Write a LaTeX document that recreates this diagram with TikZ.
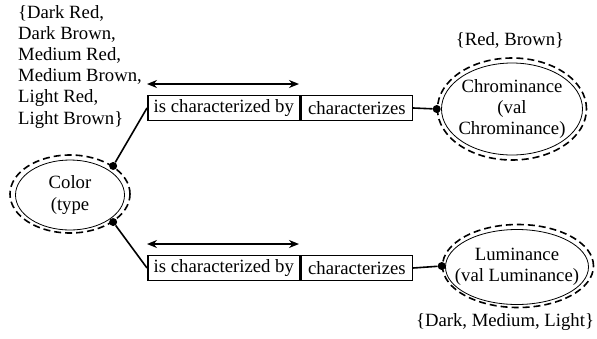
\documentclass[tikz,border=0pt]{standalone}
\usepackage{fontspec}
\setmainfont{Liberation Serif}
\usepackage{tikz}
\usetikzlibrary{positioning,shapes.geometric,arrows.meta}

\begin{document}
\begin{tikzpicture}[x=1pt,y=-1pt,font=\fontsize{18.7}{21.2}\selectfont,
    label text/.style={inner sep=0pt,align=center},
    rim/.style={ellipse,draw,line width=0.8pt,inner sep=0pt},
    halo/.style={ellipse,draw,line width=1.6pt,dash pattern=on 7pt off 4pt,inner sep=0pt},
    role/.style={rectangle,draw,line width=1.6pt,minimum height=25pt,inner sep=0pt,anchor=west},
    link/.style={line width=1.6pt},
    dot/.style={circle,fill,inner sep=0pt,minimum size=8pt},
    dir/.style={line width=1.6pt,{Stealth[length=10pt,width=8pt]}-{Stealth[length=10pt,width=8pt]}}]
      \useasboundingbox (0,0) rectangle (597,338);
      % concepts
      \node[label text](color) at (70,195){Color\\(type};
      \node[rim,minimum width=109pt,minimum height=70pt](colorin) at (70,195){};
      \node[halo,minimum width=120pt,minimum height=78pt](colorout) at (70,194){};
      \node[label text](chrom) at (512,109){Chrominance\\(val\\Chrominance)};
      \node[rim,minimum width=141pt,minimum height=92pt](chromin) at (512,109){};
      \node[halo,minimum width=149pt,minimum height=102pt](chromout) at (512,109){};
      \node[label text](lum) at (517,267){Luminance\\(val Luminance)};
      \node[rim,minimum width=143pt,minimum height=75pt](lumin) at (517,267){};
      \node[halo,minimum width=151pt,minimum height=83pt](lumout) at (518,266){};
      % value sets
      \node[align=left,anchor=north west,inner sep=0pt](colorset) at (18,5){\{Dark Red,\\Dark Brown,\\Medium Red,\\Medium Brown,\\Light Red,\\Light Brown\}};
      \node[inner sep=0pt](chromset) at (510,40){\{Red, Brown\}};
      \node[inner sep=0pt](lumset) at (505,322){\{Dark, Medium, Light\}};
      % upper relation
      \node[role,minimum width=152pt](isby1) at (147,108){is characterized by};
      \node[role,minimum width=111pt](chars1) at (isby1.east){characterizes};
      \coordinate (a1) at (147,84);
      \coordinate (b1) at (299,84);
      \draw[dir] (a1) -- (b1);
      \node[dot](d1) at (colorout.33){};
      \node[dot](d2) at (chromout.west){};
      \draw[link] (d1) -- (isby1.west);
      \draw[link] (chars1.east) -- (d2);
      % lower relation
      \node[role,minimum width=152pt](isby2) at (147,268){is characterized by};
      \node[role,minimum width=111pt](chars2) at (isby2.east){characterizes};
      \coordinate (a2) at (147,244);
      \coordinate (b2) at (299,244);
      \draw[dir] (a2) -- (b2);
      \node[dot](d3) at (colorout.-33){};
      \node[dot](d4) at (lumout.west){};
      \draw[link] (d3) -- (isby2.west);
      \draw[link] (chars2.east) -- (d4);
\end{tikzpicture}
\end{document}
